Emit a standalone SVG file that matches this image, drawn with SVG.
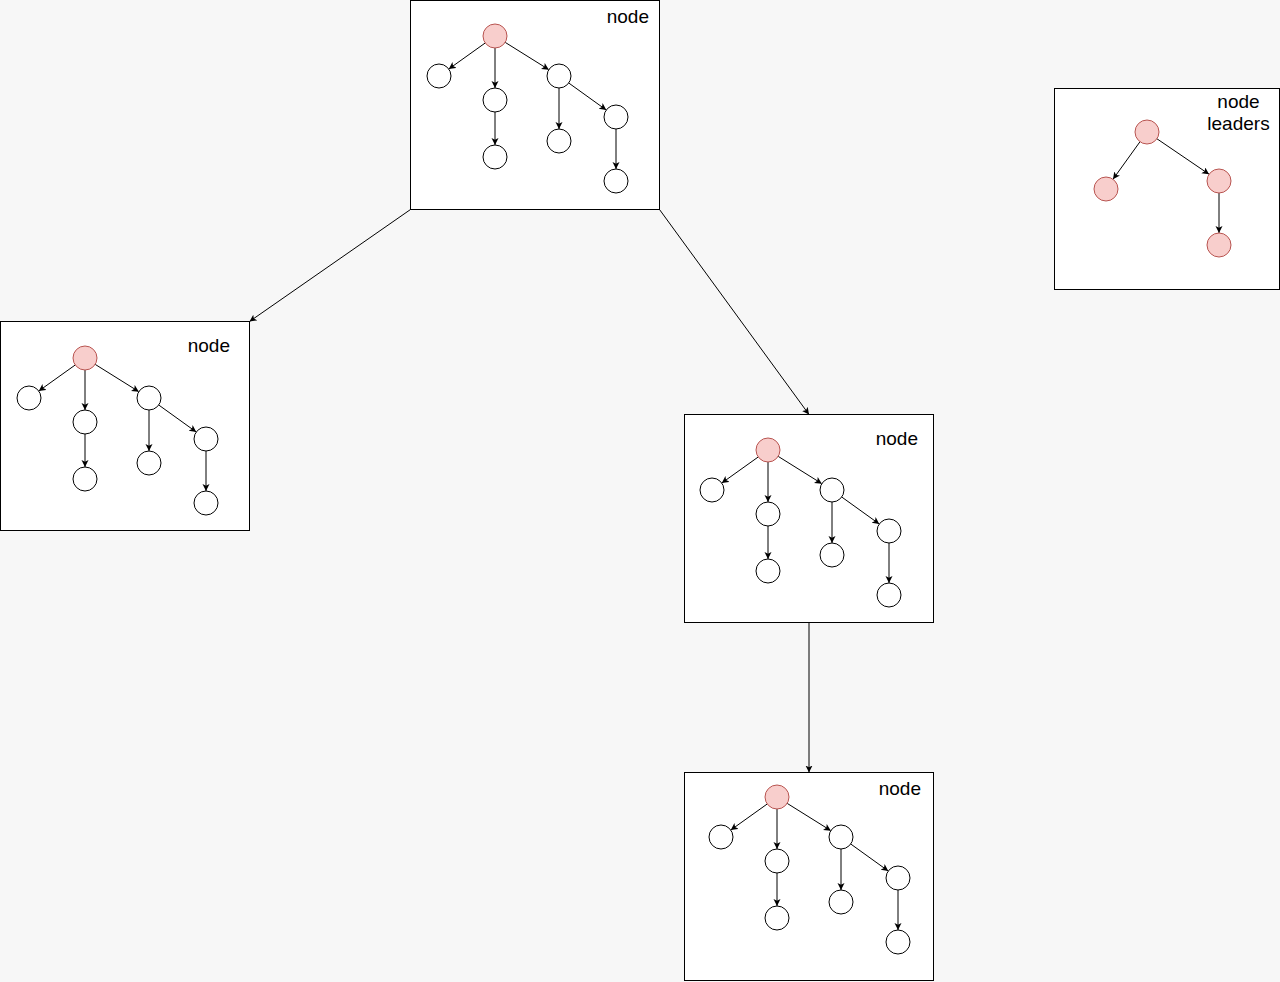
<svg xmlns="http://www.w3.org/2000/svg" xmlns:xlink="http://www.w3.org/1999/xlink" width="1280" height="982" viewBox="0 0 1280 982">
  <style>
    .box { fill: #ffffff; stroke: #000000; stroke-width: 1; }
    .c { fill: #ffffff; stroke: #000000; stroke-width: 1; }
    .lead { fill: #f8cecc; stroke: #b85450; stroke-width: 1; }
    .e { fill: none; stroke: #000000; stroke-width: 1; marker-end: url(#arrow); }
    .lbl { font-family: "Liberation Sans", Arial, sans-serif; font-size: 19px; fill: #000000; }
  </style>
  <defs>
    <marker id="arrow" markerUnits="userSpaceOnUse" markerWidth="8" markerHeight="8" refX="7" refY="3.5" orient="auto">
      <path d="M0,0 L7,3.5 L0,7 L1.75,3.5 Z" fill="#000000"/>
    </marker>
    <g id="tree">
      <g class="tree-edges">
        <line class="e" x1="-9.77" y1="6.98" x2="-46.23" y2="33.02"/>
        <line class="e" x1="0" y1="12" x2="0" y2="52"/>
        <line class="e" x1="10.18" y1="6.36" x2="53.82" y2="33.64"/>
        <line class="e" x1="0" y1="76" x2="0" y2="109"/>
        <line class="e" x1="64" y1="52" x2="64" y2="93"/>
        <line class="e" x1="73.74" y1="47.01" x2="111.26" y2="73.99"/>
        <line class="e" x1="121" y1="93" x2="121" y2="133"/>
      </g>
      <circle class="lead" cx="0" cy="0" r="12"/>
      <circle class="c" cx="-56" cy="40" r="12"/>
      <circle class="c" cx="0" cy="64" r="12"/>
      <circle class="c" cx="64" cy="40" r="12"/>
      <circle class="c" cx="0" cy="121" r="12"/>
      <circle class="c" cx="64" cy="105" r="12"/>
      <circle class="c" cx="121" cy="81" r="12"/>
      <circle class="c" cx="121" cy="145" r="12"/>
    </g>
  </defs>

  <rect x="0" y="0" width="1280" height="982" fill="#f7f7f7"/>

  <g id="connectors">
    <line class="e" x1="410.5" y1="209.5" x2="249.5" y2="321.5"/>
    <line class="e" x1="659.5" y1="209.5" x2="809" y2="414.5"/>
    <line class="e" x1="809" y1="622.5" x2="809" y2="772.5"/>
  </g>

  <g id="node-top">
    <rect class="box" x="410.5" y="0.5" width="249" height="209"/>
    <text class="lbl" x="649" y="23" text-anchor="end">node</text>
    <use xlink:href="#tree" href="#tree" transform="translate(495,36)"/>
  </g>

  <g id="node-left">
    <rect class="box" x="0.5" y="321.5" width="249" height="209"/>
    <text class="lbl" x="230" y="352" text-anchor="end">node</text>
    <use xlink:href="#tree" href="#tree" transform="translate(85,358)"/>
  </g>

  <g id="node-middle">
    <rect class="box" x="684.5" y="414.5" width="249" height="208"/>
    <text class="lbl" x="918" y="445" text-anchor="end">node</text>
    <use xlink:href="#tree" href="#tree" transform="translate(768,450)"/>
  </g>

  <g id="node-bottom">
    <rect class="box" x="684.5" y="772.5" width="249" height="208"/>
    <text class="lbl" x="921" y="795" text-anchor="end">node</text>
    <use xlink:href="#tree" href="#tree" transform="translate(777,797)"/>
  </g>

  <g id="node-leaders">
    <rect class="box" x="1054.5" y="88.5" width="225" height="201"/>
    <text class="lbl" x="1238.5" y="108" text-anchor="middle">node</text>
    <text class="lbl" x="1238.5" y="130" text-anchor="middle">leaders</text>
    <g class="tree-edges">
      <line class="e" x1="1139.99" y1="141.74" x2="1113.01" y2="179.26"/>
      <line class="e" x1="1156.92" y1="138.75" x2="1209.08" y2="174.25"/>
      <line class="e" x1="1219" y1="193" x2="1219" y2="233"/>
    </g>
    <circle class="lead" cx="1147" cy="132" r="12"/>
    <circle class="lead" cx="1106" cy="189" r="12"/>
    <circle class="lead" cx="1219" cy="181" r="12"/>
    <circle class="lead" cx="1219" cy="245" r="12"/>
  </g>
</svg>
